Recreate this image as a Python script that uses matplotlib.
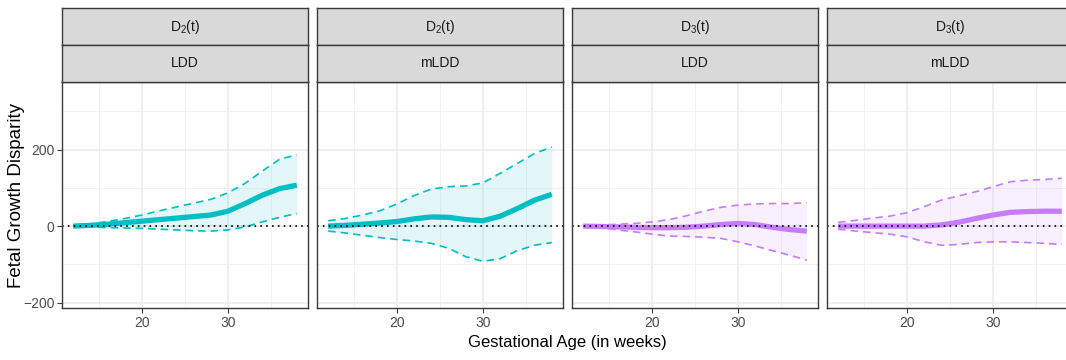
import numpy as np
import matplotlib
matplotlib.use("Agg")
import matplotlib.pyplot as plt

plt.rcParams["font.family"] = ["Liberation Sans", "DejaVu Sans"]
plt.rcParams["mathtext.fontset"] = "custom"
plt.rcParams["mathtext.rm"] = "Liberation Sans"
plt.rcParams["mathtext.it"] = "Liberation Sans:italic"

weeks = [12, 14, 16, 18, 20, 22, 24, 26, 28, 30, 32, 34, 36, 38]

measures = [r"$\mathrm{D_2(t)}$", r"$\mathrm{D_2(t)}$", r"$\mathrm{D_3(t)}$", r"$\mathrm{D_3(t)}$"]
methods = ["LDD", "mLDD", "LDD", "mLDD"]
colors = ["#00BFC4", "#00BFC4", "#C77CFF", "#C77CFF"]

d2_ldd_mean = [0, 2, 5, 9, 13, 17, 21, 25, 29, 39, 59, 81, 98, 107]
d2_ldd_upper = [3, 6, 12, 20, 29, 40, 50, 60, 70, 87, 112, 144, 175, 186]
d2_ldd_lower = [0, -2, -4, -5, -6, -8, -10, -12, -13, -10, -2, 11, 23, 33]

d2_mldd_mean = [0, 2, 5, 8, 12, 19, 24, 23, 17, 14, 26, 46, 68, 83]
d2_mldd_upper = [14, 20, 29, 40, 58, 80, 97, 103, 105, 113, 138, 164, 190, 207]
d2_mldd_lower = [-13, -18, -24, -30, -35, -39, -45, -58, -80, -92, -85, -64, -50, -43]

d3_ldd_mean = [0, -1, -2, -3, -4, -4, -3, 0, 4, 7, 4, -3, -9, -13]
d3_ldd_upper = [0, 3, 5, 7, 11, 17, 27, 39, 49, 55, 58, 59, 59, 61]
d3_ldd_lower = [0, -4, -10, -15, -21, -26, -27, -29, -32, -41, -52, -64, -76, -89]

d3_mldd_mean = [0, 0, 0, 0, 0, 0, 3, 10, 20, 29, 36, 38, 39, 39]
d3_mldd_upper = [10, 15, 21, 26, 35, 51, 68, 79, 90, 103, 116, 120, 122, 125]
d3_mldd_lower = [-8, -13, -17, -21, -28, -41, -50, -48, -43, -41, -41, -43, -45, -48]

means = [d2_ldd_mean, d2_mldd_mean, d3_ldd_mean, d3_mldd_mean]
uppers = [d2_ldd_upper, d2_mldd_upper, d3_ldd_upper, d3_mldd_upper]
lowers = [d2_ldd_lower, d2_mldd_lower, d3_ldd_lower, d3_mldd_lower]

W, H = 1066, 360
fig = plt.figure(figsize=(W / 100, H / 100), dpi=100)

edge = "#3A3A3A"
panel_top, panel_bot = 81.5, 308


def fig_box(x0, y0, x1, y1):
    return [x0 / W, 1 - y1 / H, (x1 - x0) / W, (y1 - y0) / H]


for i in range(4):
    left = 62 + 255 * i
    right = left + 246
    ax = fig.add_axes(fig_box(left, panel_top, right, panel_bot))
    ax.set_xlim(10.7, 39.3)
    ax.set_ylim(-214, 378)
    ax.set_xticks([20, 30])
    ax.set_xticks([15, 25, 35], minor=True)
    ax.set_yticks([-200, 0, 200])
    ax.set_yticks([-100, 100, 300], minor=True)
    ax.grid(which="major", color="#EBEBEB", lw=1.1)
    ax.grid(which="minor", color="#F2F2F2", lw=0.7)
    ax.set_axisbelow(True)
    ax.tick_params(which="minor", length=0)
    ax.tick_params(which="major", length=3.5, width=0.8, color=edge,
                   labelsize=10, labelcolor="#4D4D4D", pad=2)
    if i > 0:
        ax.tick_params(axis="y", which="major", length=0, labelleft=False)
    for s in ax.spines.values():
        s.set_color(edge)
        s.set_linewidth(1.0)

    c = colors[i]
    ax.fill_between(weeks, lowers[i], uppers[i], color=c, alpha=0.11, lw=0)
    ax.plot(weeks, uppers[i], color=c, lw=1.2, ls=(0, (4.5, 3)))
    ax.plot(weeks, lowers[i], color=c, lw=1.2, ls=(0, (4.5, 3)))
    ax.plot(weeks, means[i], color=c, lw=3.8, solid_capstyle="butt")
    ax.axhline(0, color="black", lw=1.2, ls=(0, (1, 2.5)))

    for (y0, y1, label) in [(8, 45, measures[i]), (45, panel_top, methods[i])]:
        sx = fig.add_axes(fig_box(left, y0, right, y1))
        sx.set_facecolor("#D9D9D9")
        sx.set_xticks([])
        sx.set_yticks([])
        for s in sx.spines.values():
            s.set_color(edge)
            s.set_linewidth(1.0)
        sx.text(0.5, 0.5, label, ha="center", va="center", fontsize=10,
                color="#1A1A1A", transform=sx.transAxes)

fig.text(567 / W, 1 - 343 / H, "Gestational Age (in weeks)", ha="center",
         va="center", fontsize=12)
fig.text(17 / W, 1 - 196 / H, "Fetal Growth Disparity", ha="center",
         va="center", rotation=90, fontsize=13.5)

fig.savefig("out.png", dpi=100)
